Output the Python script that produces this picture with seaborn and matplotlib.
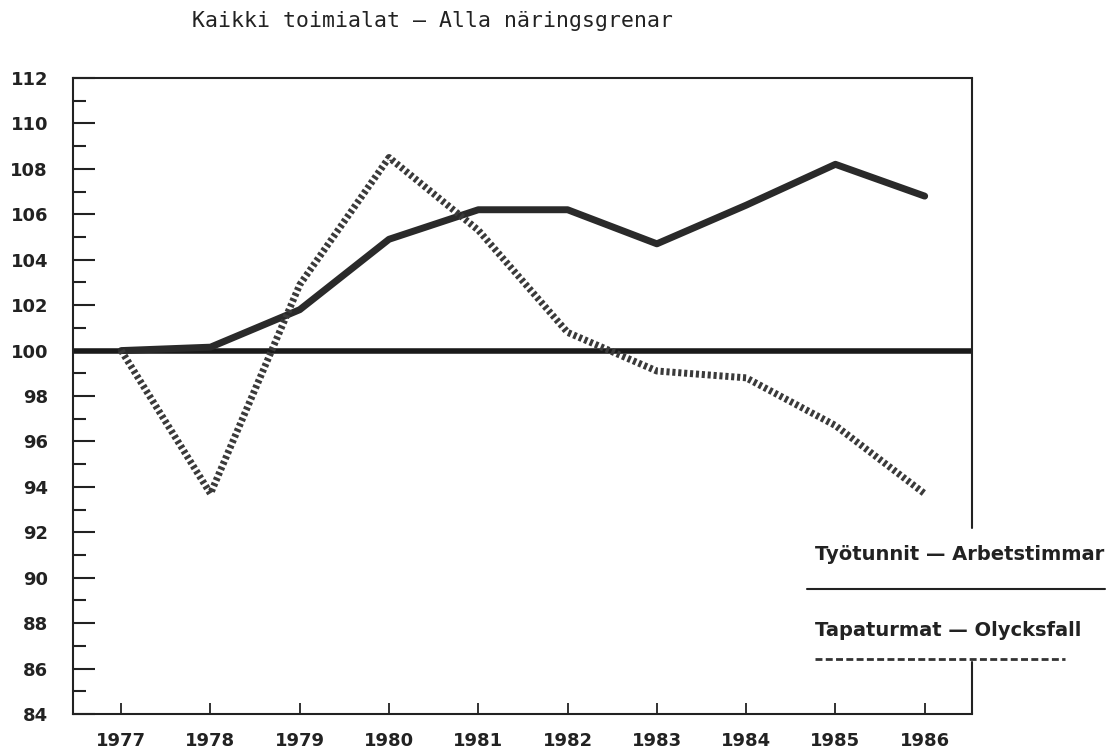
import matplotlib
matplotlib.use("Agg")
import matplotlib.pyplot as plt
import seaborn as sns
import pandas as pd
from matplotlib.lines import Line2D
from matplotlib.ticker import MultipleLocator

years = [1977, 1978, 1979, 1980, 1981, 1982, 1983, 1984, 1985, 1986]
arbetstimmar = [100.0, 100.15, 101.8, 104.9, 106.2, 106.2, 104.7, 106.4, 108.2, 106.8]
olycksfall = [100.0, 93.7, 102.9, 108.5, 105.3, 100.8, 99.1, 98.8, 96.7, 93.7]
baseline = 100
yticks = list(range(84, 113, 2))

title = "Kaikki toimialat – Alla näringsgrenar"
label1 = "Työtunnit — Arbetstimmar"
label2 = "Tapaturmat — Olycksfall"

df = pd.DataFrame({"year": years, "arb": arbetstimmar, "oly": olycksfall})

sns.set_theme(style="white")
plt.rcParams["font.family"] = ["DejaVu Sans"]

fig = plt.figure(figsize=(11.17, 7.55), dpi=100)
ax = fig.add_axes([73/1117, 1-714/755, (972-73)/1117, (714-78)/755])

xmin, xmax = 1976.46, 1986.53
ax.set_xlim(xmin, xmax)
ax.set_ylim(84, 112)

ax.axhline(baseline, color="#1a1a1a", lw=4, zorder=2)
sns.lineplot(data=df, x="year", y="arb", ax=ax, color="#2a2a2a", lw=5, zorder=3)
sns.lineplot(data=df, x="year", y="oly", ax=ax, color="#3a3a3a", lw=5,
             linestyle=(0, (0.45, 0.4)), zorder=3)

ax.set_xlabel("")
ax.set_ylabel("")
ax.set_xticks(years)
ax.set_xticklabels([str(y) for y in years])
ax.set_yticks(yticks)
ax.set_yticklabels([str(y) for y in yticks])
ax.yaxis.set_minor_locator(MultipleLocator(1))

ax.tick_params(axis="y", which="major", direction="in", length=16, width=1.5,
               color="#222", pad=18, labelsize=13, left=True)
ax.tick_params(axis="y", which="minor", direction="in", length=9, width=1.5,
               color="#222", left=True)
ax.tick_params(axis="x", which="major", direction="in", length=8, width=1.3,
               color="#222", pad=13, labelsize=13, bottom=True)
for lab in ax.get_xticklabels() + ax.get_yticklabels():
    lab.set_fontweight("bold")
    lab.set_color("#222")

for s in ["left", "bottom", "top"]:
    ax.spines[s].set_color("#222")
    ax.spines[s].set_linewidth(1.5)
ax.spines["right"].set_visible(False)
ax.plot([1, 1], [0, (714-662)/636], transform=ax.transAxes, color="#222", lw=1.5, clip_on=False)
ax.plot([1, 1], [(714-528)/636, 1], transform=ax.transAxes, color="#222", lw=1.5, clip_on=False)

fig.text(432/1117, 1-21/755, title, ha="center", va="center",
         fontsize=15.5, family="DejaVu Sans Mono", color="#222")

fig.text(815/1117, 1-554/755, label1, ha="left", va="center",
         fontsize=14, fontweight="bold", color="#222")
fig.add_artist(Line2D([807/1117, 1105/1117], [1-589/755, 1-589/755],
                      transform=fig.transFigure, color="#222", lw=1.5))
fig.text(815/1117, 1-630/755, label2, ha="left", va="center",
         fontsize=14, fontweight="bold", color="#222")
fig.add_artist(Line2D([815/1117, 1065/1117], [1-659/755, 1-659/755],
                      transform=fig.transFigure, color="#333", lw=2,
                      linestyle=(0, (2.5, 1.2))))

fig.savefig("out.png", dpi=100, facecolor="white")
